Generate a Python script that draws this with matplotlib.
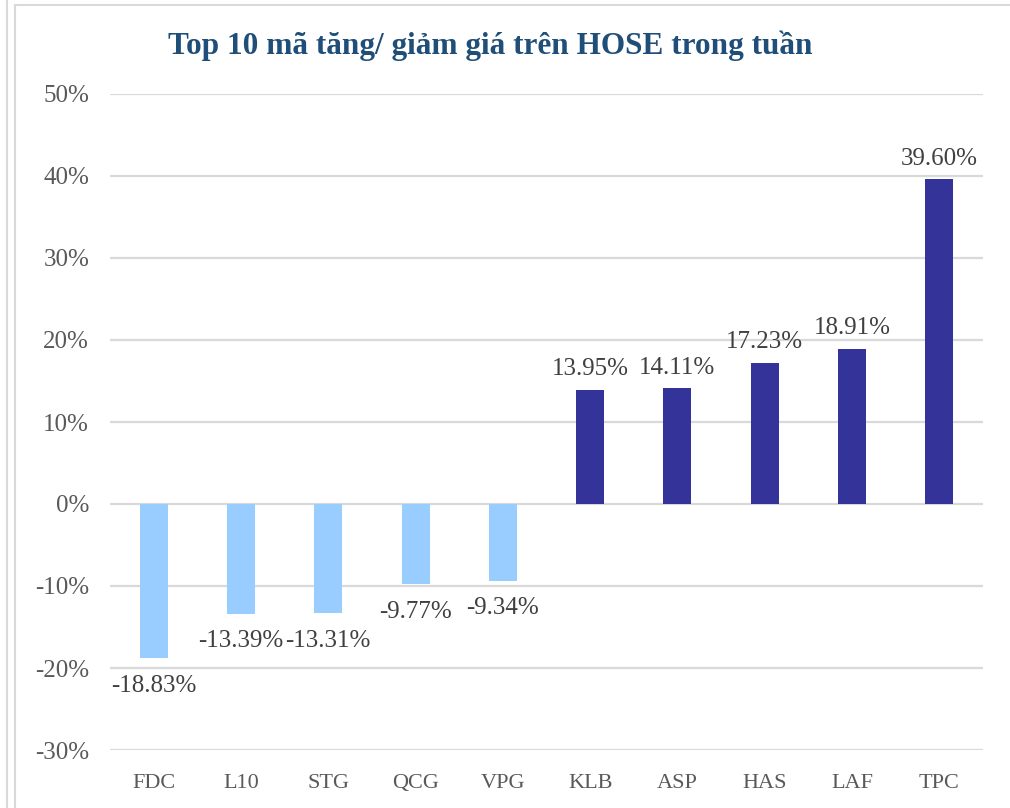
import matplotlib.pyplot as plt
from matplotlib.lines import Line2D

codes = ['FDC', 'L10', 'STG', 'QCG', 'VPG', 'KLB', 'ASP', 'HAS', 'LAF', 'TPC']
changes = [-18.83, -13.39, -13.31, -9.77, -9.34, 13.95, 14.11, 17.23, 18.91, 39.60]
yticks = [-30, -20, -10, 0, 10, 20, 30, 40, 50]

fnt = 'Liberation Serif'

fig = plt.figure(figsize=(10.1, 8.08), dpi=100)
ax = fig.add_axes([110 / 1010, 1 - 750 / 808, 873 / 1010, 656 / 808])

colors = ['#99CCFF' if v < 0 else '#333399' for v in changes]
ax.bar(range(len(codes)), changes, width=0.32, color=colors, zorder=3)

for i, v in enumerate(changes):
    if v < 0:
        ax.annotate('%.2f%%' % v, (i, v), xytext=(0, -12), textcoords='offset points',
                    ha='center', va='top', fontsize=18, color='#404040', family=fnt)
    else:
        ax.annotate('%.2f%%' % v, (i, v), xytext=(0, 7), textcoords='offset points',
                    ha='center', va='bottom', fontsize=18, color='#404040', family=fnt)

ax.set_xlim(-0.5, len(codes) - 0.5)
ax.set_ylim(-30, 50)
ax.set_yticks(yticks)
ax.set_yticklabels(['%d%%' % t for t in yticks], family=fnt,
                   fontsize=18, color='#595959')
ax.set_xticks(range(len(codes)))
ax.set_xticklabels(codes, family=fnt, fontsize=16, color='#595959')
ax.tick_params(axis='y', length=0, pad=15)
ax.tick_params(axis='x', length=0, pad=17)
ax.yaxis.grid(True, color='#D9D9D9', linewidth=1.6, zorder=0)
for s in ax.spines.values():
    s.set_visible(False)

fig.text(490 / 1010, 1 - 46 / 808, 'Top 10 mã tăng/ giảm giá trên HOSE trong tuần',
         ha='center', va='center', fontsize=22.5, fontweight='bold',
         color='#1F4E79', family=fnt)

# frame lines
fig.add_artist(Line2D([7 / 1010, 7 / 1010], [0, 1], color='#D9D9D9', lw=1.5))
fig.add_artist(Line2D([15 / 1010, 15 / 1010], [0, 1 - 5 / 808], color='#D9D9D9', lw=1.5))
fig.add_artist(Line2D([15 / 1010, 1], [1 - 5 / 808, 1 - 5 / 808], color='#D9D9D9', lw=1.5))

fig.savefig('out.png', dpi=100)
